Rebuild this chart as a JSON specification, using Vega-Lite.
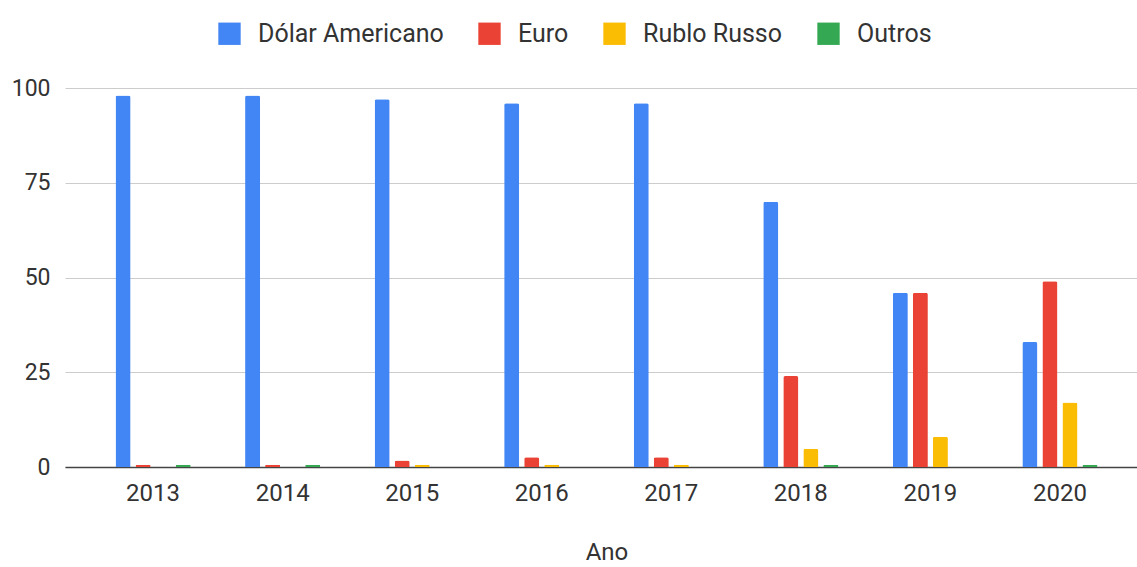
{
  "$schema": "https://vega.github.io/schema/vega-lite/v6.json",
  "width": 1083,
  "height": 379,
  "autosize": {"type": "none"},
  "padding": {"left": 65, "top": 88, "right": 0, "bottom": 100},
  "background": "white",
  "config": {
    "view": {"stroke": null},
    "font": "Roboto",
    "axis": {"labelFont": "Roboto", "titleFont": "Roboto"},
    "legend": {"labelFont": "Roboto"}
  },
  "data": {
    "values": [
      {"ano": "2013", "moeda": "Dólar Americano", "valor": 98},
      {"ano": "2013", "moeda": "Euro", "valor": 0.6},
      {"ano": "2013", "moeda": "Rublo Russo", "valor": 0},
      {"ano": "2013", "moeda": "Outros", "valor": 0.6},
      {"ano": "2014", "moeda": "Dólar Americano", "valor": 98},
      {"ano": "2014", "moeda": "Euro", "valor": 0.6},
      {"ano": "2014", "moeda": "Rublo Russo", "valor": 0},
      {"ano": "2014", "moeda": "Outros", "valor": 0.6},
      {"ano": "2015", "moeda": "Dólar Americano", "valor": 97},
      {"ano": "2015", "moeda": "Euro", "valor": 1.7},
      {"ano": "2015", "moeda": "Rublo Russo", "valor": 0.6},
      {"ano": "2015", "moeda": "Outros", "valor": 0},
      {"ano": "2016", "moeda": "Dólar Americano", "valor": 96},
      {"ano": "2016", "moeda": "Euro", "valor": 2.6},
      {"ano": "2016", "moeda": "Rublo Russo", "valor": 0.6},
      {"ano": "2016", "moeda": "Outros", "valor": 0},
      {"ano": "2017", "moeda": "Dólar Americano", "valor": 96},
      {"ano": "2017", "moeda": "Euro", "valor": 2.6},
      {"ano": "2017", "moeda": "Rublo Russo", "valor": 0.6},
      {"ano": "2017", "moeda": "Outros", "valor": 0},
      {"ano": "2018", "moeda": "Dólar Americano", "valor": 70},
      {"ano": "2018", "moeda": "Euro", "valor": 24},
      {"ano": "2018", "moeda": "Rublo Russo", "valor": 4.8},
      {"ano": "2018", "moeda": "Outros", "valor": 0.6},
      {"ano": "2019", "moeda": "Dólar Americano", "valor": 46},
      {"ano": "2019", "moeda": "Euro", "valor": 46},
      {"ano": "2019", "moeda": "Rublo Russo", "valor": 8},
      {"ano": "2019", "moeda": "Outros", "valor": 0},
      {"ano": "2020", "moeda": "Dólar Americano", "valor": 33},
      {"ano": "2020", "moeda": "Euro", "valor": 49},
      {"ano": "2020", "moeda": "Rublo Russo", "valor": 17},
      {"ano": "2020", "moeda": "Outros", "valor": 0.6}
    ]
  },
  "mark": {"type": "bar", "cornerRadiusTopLeft": 2, "cornerRadiusTopRight": 2},
  "encoding": {
    "x": {
      "field": "ano",
      "type": "nominal",
      "scale": {"paddingInner": 0.42, "paddingOuter": 0.39},
      "axis": {
        "title": "Ano",
        "labelAngle": 0,
        "labelFontSize": 24,
        "labelColor": "#333333",
        "labelPadding": 14,
        "ticks": false,
        "domainColor": "#444444",
        "domainWidth": 1.5,
        "titleFontSize": 24,
        "titleFontWeight": "normal",
        "titleColor": "#333333",
        "titlePadding": 35
      }
    },
    "xOffset": {
      "field": "moeda",
      "type": "nominal",
      "sort": ["Dólar Americano", "Euro", "Rublo Russo", "Outros"],
      "scale": {"paddingInner": 0.25, "paddingOuter": 0}
    },
    "y": {
      "field": "valor",
      "type": "quantitative",
      "scale": {"domain": [0, 100]},
      "axis": {
        "title": null,
        "values": [0, 25, 50, 75, 100],
        "labelFontSize": 23,
        "labelColor": "#333333",
        "labelPadding": 15,
        "ticks": false,
        "domain": false,
        "gridColor": "#cccccc",
        "gridWidth": 1.2
      }
    },
    "color": {
      "field": "moeda",
      "type": "nominal",
      "sort": ["Dólar Americano", "Euro", "Rublo Russo", "Outros"],
      "scale": {
        "domain": ["Dólar Americano", "Euro", "Rublo Russo", "Outros"],
        "range": ["#4285F4", "#EA4335", "#FBBC04", "#34A853"]
      },
      "legend": {
        "title": null,
        "orient": "none",
        "direction": "horizontal",
        "legendX": 152,
        "legendY": -67,
        "symbolType": "square",
        "symbolSize": 500,
        "symbolStrokeWidth": 0,
        "labelFontSize": 25,
        "labelColor": "#333333",
        "labelOffset": 16,
        "labelLimit": 400,
        "columnPadding": 33
      }
    }
  }
}
